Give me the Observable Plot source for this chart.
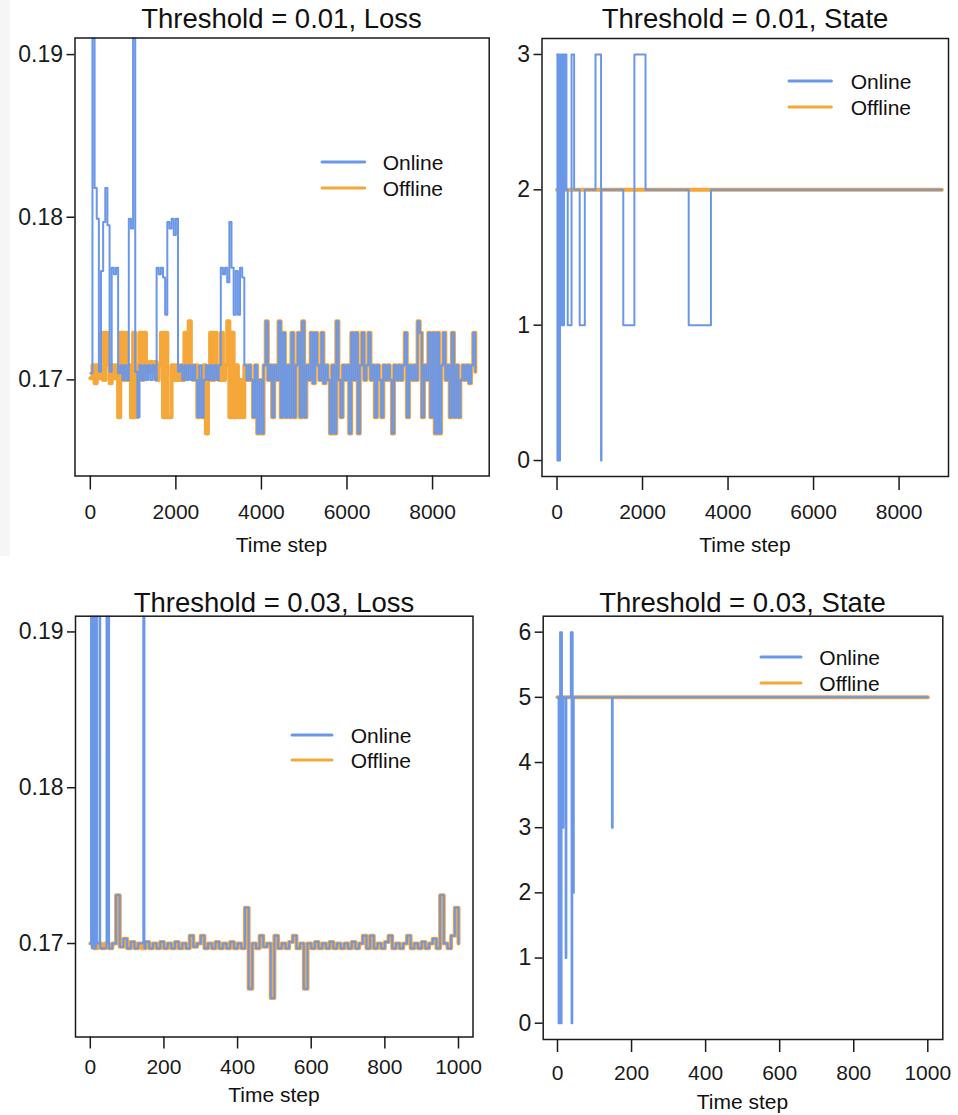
<!DOCTYPE html>
<html><head><meta charset="utf-8">
<script src="https://cdn.jsdelivr.net/npm/d3@7"></script>
<script src="https://cdn.jsdelivr.net/npm/@observablehq/plot@0.6"></script>
<style>
body{margin:0;background:#fff;}
#root{position:relative;width:958px;height:1115px;overflow:hidden;font-family:"Liberation Sans",Arial,sans-serif;color:#111;}
#strip{position:absolute;left:0;top:0;width:10px;height:556px;background:#f6f6f6;}
.panel{position:absolute;}
.title{position:absolute;font-size:27.5px;transform:translate(-50%,-50%);white-space:nowrap;line-height:1;}
.xlab{position:absolute;font-size:21px;transform:translate(-50%,-50%);white-space:nowrap;line-height:1;}
.legtext{position:absolute;font-size:21px;transform:translateY(-50%);white-space:nowrap;line-height:1;}
.legline{position:absolute;}
</style></head><body><div id="root"><div id="strip"></div></div>
<script>
// ---------- data ----------
const seriesNames = ["Online", "Offline"];
const titles = ["Threshold = 0.01, Loss", "Threshold = 0.01, State", "Threshold = 0.03, Loss", "Threshold = 0.03, State"];
const xLabel = "Time step";

// Panel A (threshold 0.01, loss): values every 50 time steps
const lossA_step = 50;
const lossA_offEarly = [ // t = 0 .. 3550
  0.1701,0.1709,0.1698,0.1709,0.1701,0.1729,0.1700,0.1729,0.1709,0.1698,
  0.1709,0.1701,0.1709,0.1677,0.1729,0.1700,0.1729,0.1700,0.1709,0.1677,
  0.1729,0.1677,0.1709,0.1729,0.1700,0.1729,0.1711,0.1705,0.1711,0.1705,
  0.1711,0.1700,0.1709,0.1729,0.1677,0.1729,0.1677,0.1677,0.1709,0.1700,
  0.1709,0.1700,0.1709,0.1700,0.1729,0.1701,0.1736,0.1709,0.1700,0.1709,
  0.1677,0.1700,0.1677,0.1709,0.1667,0.1700,0.1729,0.1700,0.1729,0.1709,
  0.1700,0.1729,0.1700,0.1709,0.1736,0.1677,0.1729,0.1677,0.1709,0.1677,
  0.1700,0.1677];
const lossA_onEarly = [ // t = 0 .. 3550
  0.1704,0.1950,0.1818,0.1799,0.1705,0.1767,0.1797,0.1818,0.1795,0.1705,
  0.1769,0.1765,0.1769,0.1704,0.1709,0.1700,0.1709,0.1700,0.1799,0.1793,
  0.1950,0.1705,0.1677,0.1709,0.1700,0.1709,0.1700,0.1709,0.1700,0.1709,
  0.1700,0.1769,0.1765,0.1769,0.1763,0.1740,0.1797,0.1793,0.1799,0.1789,
  0.1799,0.1705,0.1709,0.1700,0.1709,0.1700,0.1709,0.1700,0.1709,0.1700,
  0.1677,0.1709,0.1677,0.1700,0.1709,0.1700,0.1709,0.1700,0.1709,0.1700,
  0.1709,0.1769,0.1765,0.1769,0.1760,0.1797,0.1769,0.1740,0.1767,0.1740,
  0.1769,0.1763];
const lossA_late = [ // t = 3600 .. 9000, both series
  0.1709,0.1700,0.1709,0.1700,0.1677,0.1709,0.1667,0.1700,0.1667,0.1709,
  0.1736,0.1700,0.1709,0.1677,0.1709,0.1700,0.1736,0.1677,0.1729,0.1677,
  0.1709,0.1677,0.1729,0.1677,0.1709,0.1729,0.1677,0.1736,0.1677,0.1709,
  0.1700,0.1729,0.1698,0.1729,0.1709,0.1700,0.1729,0.1698,0.1709,0.1700,
  0.1667,0.1709,0.1667,0.1736,0.1700,0.1677,0.1709,0.1700,0.1709,0.1667,
  0.1729,0.1700,0.1729,0.1667,0.1709,0.1729,0.1700,0.1709,0.1729,0.1700,
  0.1709,0.1677,0.1709,0.1700,0.1677,0.1709,0.1700,0.1709,0.1700,0.1667,
  0.1709,0.1700,0.1709,0.1700,0.1709,0.1729,0.1677,0.1709,0.1700,0.1709,
  0.1700,0.1736,0.1729,0.1677,0.1709,0.1700,0.1729,0.1677,0.1729,0.1667,
  0.1729,0.1667,0.1709,0.1729,0.1700,0.1709,0.1677,0.1729,0.1677,0.1709,
  0.1677,0.1700,0.1709,0.1700,0.1709,0.1698,0.1709,0.1729,0.1705];
const lossA_lateStart = 3600;

// Panel B (threshold 0.01, state): [time, state] change points
const stateA_off = [[0, 2], [9000, 2]];
const stateA_on = [[0,3],[10,0],[20,3],[30,0],[45,3],[55,0],[70,3],[80,1],[95,3],[115,1],[130,3],[150,1],
  [165,3],[185,2],[200,3],[220,2],[250,1],[340,3],[400,2],[530,1],[650,2],[900,3],[1030,0],[1040,2],
  [1550,1],[1810,3],[2070,2],[3080,1],[3600,2],[9000,2]];

// Panel C (threshold 0.03, loss): offline every 10 time steps
const lossC_step = 10;
const lossC_off = [ // t = 0 .. 1000
  0.1700,0.1697,0.1700,0.1697,0.1700,0.1697,0.1700,0.1731,0.1698,0.1703,
  0.1697,0.1701,0.1697,0.1700,0.1697,0.1701,0.1697,0.1700,0.1697,0.1701,
  0.1697,0.1700,0.1697,0.1701,0.1697,0.1700,0.1697,0.1705,0.1698,0.1700,
  0.1705,0.1697,0.1700,0.1697,0.1701,0.1697,0.1700,0.1697,0.1701,0.1697,
  0.1700,0.1697,0.1723,0.1671,0.1700,0.1697,0.1705,0.1698,0.1700,0.1665,
  0.1705,0.1697,0.1700,0.1697,0.1701,0.1705,0.1697,0.1700,0.1671,0.1700,
  0.1697,0.1701,0.1697,0.1700,0.1697,0.1701,0.1697,0.1700,0.1697,0.1700,
  0.1697,0.1701,0.1697,0.1700,0.1705,0.1697,0.1705,0.1697,0.1700,0.1697,
  0.1701,0.1705,0.1697,0.1700,0.1697,0.1700,0.1705,0.1697,0.1700,0.1697,
  0.1701,0.1697,0.1700,0.1703,0.1697,0.1731,0.1700,0.1697,0.1705,0.1723,
  0.1700];
// online differs only before t = 160: [time, loss] change points
const lossC_onEarly = [[0,0.1700],[2,0.1950],[4,0.1697],[6,0.1950],[8,0.1700],[10,0.1950],[12,0.1697],
  [15,0.1950],[18,0.1700],[25,0.1950],[27,0.1697],[44,0.1950],[46,0.1700],[49,0.1950],[51,0.1697],
  [60,0.1700],[70,0.1731],[80,0.1698],[90,0.1703],[100,0.1697],[110,0.1701],[120,0.1697],[130,0.1700],
  [144,0.1950],[147,0.1697],[150,0.1701]];
const lossC_onSplit = 160;

// Panel D (threshold 0.03, state)
const stateC_off = [[0, 5], [1000, 5]];
const stateC_on = [[0,5],[3,0],[5,5],[7,6],[9,0],[11,6],[12,5],[14,3],[16,5],[22,1],[24,5],[36,6],[38,0],
  [40,6],[41,5],[42,2],[44,5],[147,3],[149,5],[1000,5]];

// ticks
const ticksLossY = [0.17, 0.18, 0.19];
const ticksStateA = [0, 1, 2, 3];
const ticksStateC = [0, 1, 2, 3, 4, 5, 6];
const ticksXA = [0, 2000, 4000, 6000, 8000];
const ticksXC = [0, 200, 400, 600, 800, 1000];

// ---------- build ----------
const blue = "#6b97e8", orange = "#f5a73a", ink = "#1a1a1a";
const grid = (start, step, vs) => vs.map((v, i) => ({t: start + i * step, v}));
const pairs = p => p.map(([t, v]) => ({t, v}));

const A_off = grid(0, lossA_step, lossA_offEarly).concat(grid(lossA_lateStart, lossA_step, lossA_late));
const A_on = grid(0, lossA_step, lossA_onEarly).concat(grid(lossA_lateStart, lossA_step, lossA_late));
const C_offRows = grid(0, lossC_step, lossC_off);
const C_on = pairs(lossC_onEarly).concat(C_offRows.filter(d => d.t >= lossC_onSplit));

const root = document.getElementById("root");
const fmt2 = d3.format(".2f"), fmtInt = d3.format("d");

function panel(c) {
  const svg = Plot.plot({
    width: c.w, height: c.h,
    marginLeft: c.ml, marginRight: c.mr, marginTop: c.mt, marginBottom: c.mb,
    x: {domain: c.xd}, y: {domain: c.yd},
    style: {fontFamily: '"Liberation Sans", Arial, sans-serif', fontSize: "21px", color: ink, background: "transparent", overflow: "visible"},
    marks: [
      Plot.line(c.off, {x: "t", y: "v", curve: "step-after", stroke: orange, strokeWidth: c.offW, clip: true}),
      Plot.line(c.on, {x: "t", y: "v", curve: "step-after", stroke: blue, strokeWidth: c.onW, clip: true}),
      Plot.frame({stroke: ink, strokeWidth: 1.5}),
      Plot.axisY(c.yt, {tickSize: 8, tickPadding: 4, tickFormat: c.yf, label: null, strokeWidth: 1.5, fontSize: 23}),
      Plot.axisX(c.xt, {tickSize: c.ts, tickPadding: c.tp, tickFormat: fmtInt, label: null, strokeWidth: 1.5})
    ]
  });
  const div = document.createElement("div");
  div.className = "panel";
  div.style.left = c.left + "px";
  div.style.top = c.top + "px";
  div.appendChild(svg);
  root.appendChild(div);
}

function text(cls, str, x, y) {
  const d = document.createElement("div");
  d.className = cls; d.textContent = str;
  d.style.left = x + "px"; d.style.top = y + "px";
  root.appendChild(d);
}

function legend(x1, x2, xt, y1, y2) {
  [[y1, blue, seriesNames[0]], [y2, orange, seriesNames[1]]].forEach(([y, col, name]) => {
    const s = document.createElementNS("http://www.w3.org/2000/svg", "svg");
    s.setAttribute("class", "legline");
    s.setAttribute("width", x2 - x1 + 4); s.setAttribute("height", 6);
    s.style.left = (x1 - 2) + "px"; s.style.top = (y - 3) + "px";
    const l = document.createElementNS("http://www.w3.org/2000/svg", "line");
    l.setAttribute("x1", 2); l.setAttribute("x2", x2 - x1 + 2); l.setAttribute("y1", 3); l.setAttribute("y2", 3);
    l.setAttribute("stroke", col); l.setAttribute("stroke-width", 3); l.setAttribute("stroke-linecap", "round");
    s.appendChild(l); root.appendChild(s);
    text("legtext", name, xt, y);
  });
}

panel({left: 0, top: 0, w: 500, h: 560, ml: 74.5, mr: 11.3, mt: 37.5, mb: 84.5,
  xd: [-358, 9324], yd: [0.16409, 0.19102], off: A_off, on: A_on, offW: 4, onW: 2,
  yt: ticksLossY, yf: fmt2, xt: ticksXA, ts: 14, tp: 14});
panel({left: 480, top: 0, w: 478, h: 560, ml: 61.5, mr: 10, mt: 38, mb: 84,
  xd: [-351, 9156], yd: [-0.118, 3.118], off: pairs(stateA_off), on: pairs(stateA_on), offW: 4, onW: 2,
  yt: ticksStateA, yf: fmtInt, xt: ticksXA, ts: 14, tp: 14});
panel({left: 0, top: 580, w: 480, h: 535, ml: 75, mr: 7.5, mt: 35.7, mb: 78.5,
  xd: [-40.2, 1039.4], yd: [0.164, 0.19101], off: C_offRows, on: C_on, offW: 4, onW: 2,
  yt: ticksLossY, yf: fmt2, xt: ticksXC, ts: 12, tp: 10});
panel({left: 480, top: 580, w: 478, h: 535, ml: 62.7, mr: 15.7, mt: 35.7, mb: 76,
  xd: [-38.6, 1040.5], yd: [-0.25, 6.245], off: pairs(stateC_off), on: pairs(stateC_on), offW: 4, onW: 2,
  yt: ticksStateC, yf: fmtInt, xt: ticksXC, ts: 13, tp: 13});

text("title", titles[0], 281.5, 19);
text("title", titles[1], 745, 19);
text("title", titles[2], 274, 603);
text("title", titles[3], 742.5, 603);
text("xlab", xLabel, 281.5, 544);
text("xlab", xLabel, 745, 544);
text("xlab", xLabel, 274, 1094);
text("xlab", xLabel, 742.5, 1101);

legend(321.7, 364.3, 382.7, 161.7, 187.7);
legend(789.3, 831.7, 850.7, 80.7, 107.3);
legend(292.3, 332.3, 350.7, 734.7, 760);
legend(761, 801, 819.3, 657.3, 682.7);
</script></body></html>
